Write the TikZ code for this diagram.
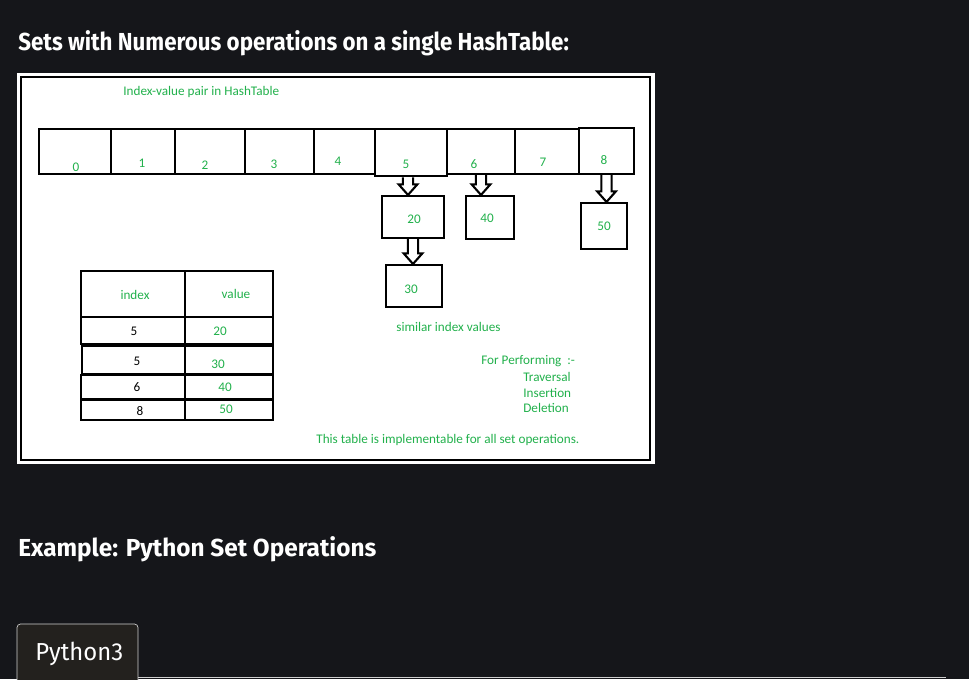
\documentclass[tikz,border=0pt]{standalone}
\usepackage{fontspec}
\setmainfont{Carlito}
\newfontfamily\headfont{Fira Sans}
\usetikzlibrary{calc}
\definecolor{pagebg}{HTML}{15161A}
\definecolor{paint}{HTML}{22B14C}
\definecolor{tabbg}{HTML}{23211E}
\definecolor{tabline}{HTML}{CFCFCF}
\tikzset{
  lbl/.style={text=paint, font=\fontsize{7.5}{9}\selectfont, inner sep=0pt},
  num/.style={text=black, font=\fontsize{7.5}{9}\selectfont, inner sep=0pt},
  cell/.style={draw, line width=1.2pt, inner sep=0pt, minimum height=0.9cm},
  valbox/.style={draw, line width=1.2pt, inner sep=0pt},
  chainline/.style={line width=1.2pt, line join=miter},
  hollow/.style={to path={let \p1=(\tikztostart), \p2=(\tikztotarget) in
    (\x1-2.9pt,\y1) -- (\x1-2.9pt,\y2+6pt) -- (\x1-5.3pt,\y2+6pt) -- (\x1,\y2)
    -- (\x1+5.3pt,\y2+6pt) -- (\x1+2.9pt,\y2+6pt) -- (\x1+2.9pt,\y1)}},
  head/.style={text=white, font=\headfont\bfseries\fontsize{14}{16}\selectfont, anchor=base west, inner sep=0pt}
}
\begin{document}
\begin{tikzpicture}[x=0.02cm,y=-0.02cm]
  \fill[pagebg] (0,0) rectangle (969,679);
  \useasboundingbox (0,0) rectangle (969,679);
  \node[head] (title) at (18,51) {\scalebox{0.907}[1]{Sets with Numerous operations on a single HashTable:}};
  % the picture panel
  \fill[white] (17,73) rectangle (655,464);
  \draw[line width=1.2pt] (21,77) rectangle (650,460);
  \node[lbl, anchor=west] (caption) at (123,92) {Index-value pair in HashTable};
  % hash table cells
  \node[cell, minimum width=1.44cm] (c0) at (75,151.5){};
  \node[cell, minimum width=1.28cm] (c1) at (143,151.5){};
  \node[cell, minimum width=1.40cm] (c2) at (210,151.5){};
  \node[cell, minimum width=1.38cm] (c3) at (279.5,151.5){};
  \node[cell, minimum width=1.22cm] (c4) at (344.5,151.5){};
  \node[cell, minimum width=1.36cm] (c6) at (481,151.5){};
  \node[cell, minimum width=1.28cm] (c7) at (547,151.5){};
  \node[cell, minimum width=1.10cm, minimum height=0.92cm] (c8) at (606.5,151){};
  \node[cell, line width=1.6pt, minimum width=1.44cm, minimum height=0.94cm] (c5) at (411,152.5){};
  \node[lbl] (n0) at (76,167){0};
  \node[lbl] (n1) at (142,163){1};
  \node[lbl] (n2) at (205,165){2};
  \node[lbl] (n3) at (274,164){3};
  \node[lbl] (n4) at (338,161){4};
  \node[lbl] (n5) at (406,164){5};
  \node[lbl] (n6) at (474,164){6};
  \node[lbl] (n7) at (543,162){7};
  \node[lbl] (n8) at (604,160){8};
  % chained values
  \node[valbox, minimum width=1.24cm, minimum height=0.84cm] (b20) at (413,217){};
  \node[valbox, minimum width=0.96cm, minimum height=0.86cm] (b40) at (490,217.5){};
  \node[valbox, minimum width=0.92cm, minimum height=0.92cm] (b50) at (604,226){};
  \node[valbox, minimum width=1.12cm, minimum height=0.84cm] (b30) at (414,286){};
  \node[lbl] (v20) at (414,219){20};
  \node[lbl] (v40) at (487,218){40};
  \node[lbl] (v50) at (604,226){50};
  \node[lbl] (v30) at (411,289){30};
  \draw[chainline] ($(c5.south)+(-3,0)$) to[hollow] (b20.north);
  \draw[chainline] (c6.south) to[hollow] (b40.north);
  \draw[chainline] (c8.south) to[hollow] (b50.north);
  \draw[chainline] (b20.south) to[hollow] (b30.north);
  \node[lbl, anchor=west] (similar) at (396,327){similar index values};
  % index/value table
  \draw[line width=1.3pt] (81,271) rectangle (273,317);
  \draw[line width=1.3pt] (81,317) rectangle (273,344);
  \draw[line width=1.3pt] (82,346) rectangle (273,374);
  \draw[line width=1.3pt] (81,375) rectangle (273,399);
  \draw[line width=1.3pt] (81,400) rectangle (273,420);
  \draw[line width=1.3pt] (185,271) -- (185,420);
  \node[lbl] (hidx) at (135,295){index};
  \node[lbl] (hval) at (236,294){value};
  \node[num] (i1) at (134,331){5};
  \node[lbl] (w1) at (220,331){20};
  \node[num] (i2) at (137,361){5};
  \node[lbl] (w2) at (218,364){30};
  \node[num] (i3) at (137,387){6};
  \node[lbl] (w3) at (225,387){40};
  \node[num] (i4) at (140,411){8};
  \node[lbl] (w4) at (226,409){50};
  % operations
  \node[lbl, anchor=west] (perform) at (481,361){For Performing~~:-};
  \node[lbl, anchor=west] (trav) at (523,377){Traversal};
  \node[lbl, anchor=west] (ins) at (523,393){Insertion};
  \node[lbl, anchor=west] (del) at (523,408){Deletion};
  \node[lbl, anchor=west] (note) at (316,440){This table is implementable for all set operations.};
  % below the panel
  \node[head] (example) at (18,556) {\scalebox{0.99}[1]{Example: Python Set Operations}};
  \draw[tabline, fill=tabbg, rounded corners=2pt] (17,680) -- (17,624) -- (138,624) -- (138,680);
  \draw[tabline] (138,677) -- (946,677);
  \node[text=white, font=\headfont\fontsize{14}{16}\selectfont, anchor=base west, inner sep=0pt] (tab) at (35,660) {\scalebox{0.97}[1]{Python3}};
\end{tikzpicture}
\end{document}
